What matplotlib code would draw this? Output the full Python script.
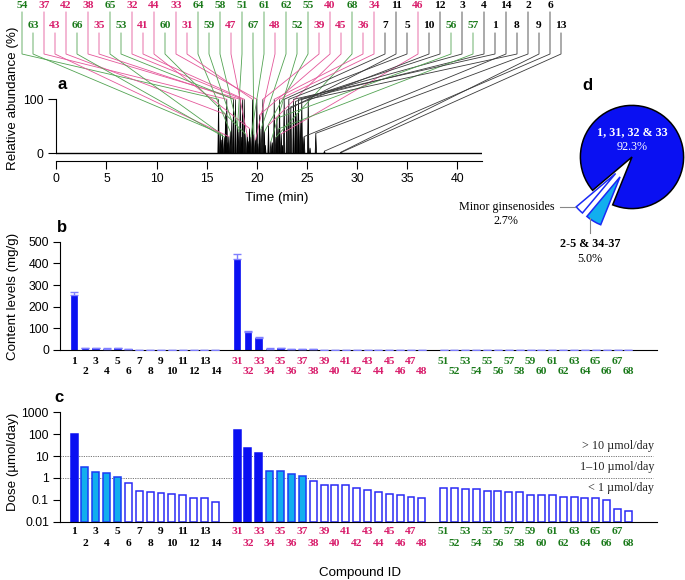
import matplotlib
matplotlib.use('Agg')
import matplotlib.pyplot as plt
import numpy as np
from matplotlib.lines import Line2D
from matplotlib.transforms import blended_transform_factory

W, H = 685, 580

# ---------------- data ----------------
group1_ids = list(range(1, 15))
group2_ids = list(range(31, 49))
group3_ids = list(range(51, 69))

# panel b: content levels (mg/g)
content_g1 = [252, 9, 7, 6, 7, 3, 1, 1, 0.8, 0.7, 0.7, 0.5, 0.4, 0.3]
content_g2 = [418, 83, 57, 6, 7, 5, 5, 3, 2, 2, 2, 1.5, 1.2, 1, 0.8, 0.7, 0.6, 0.5]
content_g3 = [1.5, 1.5, 1.3, 1.3, 1, 1, 1, 0.9, 0.7, 0.7, 0.7, 0.6, 0.5, 0.5, 0.5, 0.4, 0.1, 0.1]
error_g1 = [17, 1, 1, 1, 1, 0.5, 0, 0, 0, 0, 0, 0, 0, 0]
error_g2 = [27, 4, 3, 1, 1, 1, 1, 0.5, 0, 0, 0, 0, 0, 0, 0, 0, 0, 0]
error_g3 = [0] * 18

# panel c: dose (umol/day)
dose_g1 = [105, 3.3, 1.9, 1.75, 1.1, 0.59, 0.25, 0.23, 0.19, 0.17, 0.165, 0.115, 0.105, 0.068]
dose_g2 = [163, 24, 14, 2.1, 2.0, 1.52, 1.28, 0.73, 0.48, 0.47, 0.47, 0.34, 0.265, 0.23,
           0.17, 0.165, 0.13, 0.11]
dose_g3 = [0.33, 0.33, 0.30, 0.30, 0.24, 0.24, 0.215, 0.21, 0.158, 0.152, 0.148, 0.128,
           0.123, 0.115, 0.11, 0.084, 0.0265, 0.02]

# panel a: retention time (min) and relative abundance of each labelled compound
peak_ids = [1, 2, 3, 4, 5, 6, 7, 8, 9, 10, 11, 12, 13, 14,
            31, 32, 33, 34, 35, 36, 37, 38, 39, 40, 41, 42, 43, 44, 45, 46, 47, 48,
            51, 52, 53, 54, 55, 56, 57, 58, 59, 60, 61, 62, 63, 64, 65, 66, 67, 68]
peak_rt = [23.65, 25.88, 24.15, 24.48, 23.19, 26.74, 22.72, 25.12, 28.37, 23.39, 22.99, 23.85, 28.45, 24.72,
           19.57, 18.57, 20.0, 22.26, 17.87, 21.73, 17.0, 18.34, 20.6, 20.26, 18.74, 16.88, 17.2, 19.27,
           21.16, 22.43, 19.07, 19.87,
           18.07, 21.4, 17.67, 16.18, 20.75, 22.0, 22.12, 18.2, 17.5, 18.9, 19.4, 20.42, 16.35, 17.35,
           16.58, 16.75, 19.7, 21.9]
peak_height = [100, 37, 100, 100, 100, 4, 100, 100, 2, 86, 80, 96, 2, 31,
               100, 100, 100, 100, 100, 100, 100, 100, 100, 71, 100, 72, 31, 46, 52, 36, 31, 25,
               50, 22, 100, 100, 40, 65, 45, 40, 60, 35, 30, 45, 37, 40, 34, 30, 35, 30]
other_rt = [23.99, 24.32, 16.45, 17.1, 18.45, 19.15, 20.1, 20.85, 21.55, 22.55, 24.6, 25.3]
other_height = [74, 62, 25, 20, 30, 22, 18, 15, 20, 15, 30, 10]

top_row_labels = [54, 37, 42, 38, 65, 32, 44, 33, 64, 58, 51, 61, 62, 55, 40, 68, 34, 11, 46, 12, 3, 4, 14, 2, 6]
second_row_labels = [63, 43, 66, 35, 53, 41, 60, 31, 59, 47, 67, 48, 52, 39, 45, 36, 7, 5, 10, 56, 57, 1, 8, 9, 13]

time_ticks = [0, 5, 10, 15, 20, 25, 30, 35, 40]

pie_labels = ['1, 31, 32 & 33', 'Minor ginsenosides', '2-5 & 34-37']
pie_values = [92.3, 2.7, 5.0]

# ---------------- style ----------------
BLUE = '#0a10f2'
CYAN = '#12aeee'
MAG = '#d81b6a'
GRN = '#1b7a1b'
MAG_L = '#e4579a'
GRN_L = '#52a352'
BLK_L = '#3a3a3a'
SANS = 'Liberation Sans'
SERIF = 'Liberation Serif'

plt.rcParams['font.family'] = SANS

fig = plt.figure(figsize=(W / 100, H / 100), dpi=100)


def fx(x):
    return x / W


def fy(y):
    return 1 - y / H


def id_color(i):
    if i < 30:
        return 'black'
    if i < 50:
        return MAG
    return GRN


def id_line_color(i):
    if i < 30:
        return BLK_L
    if i < 50:
        return MAG_L
    return GRN_L


# positions of compounds on bar axes (groups separated by a gap)
all_ids = group1_ids + group2_ids + group3_ids
positions = []
for g, ids in enumerate([group1_ids, group2_ids, group3_ids]):
    start = [0, 15, 34][g]
    positions += [start + k for k in range(len(ids))]
positions = np.array(positions)
content = np.array(content_g1 + content_g2 + content_g3)
errors = np.array(error_g1 + error_g2 + error_g3)
dose = np.array(dose_g1 + dose_g2 + dose_g3)

# ---------------- panel a ----------------
ax_a = fig.add_axes([fx(56.3), fy(160.7), (482 - 56.3) / W, (160.7 - 99.3) / H])
ax_a.set_xlim(0, 42.45)
ax_a.set_ylim(-13.7, 100)
w = 0.07
for t, h in zip(list(peak_rt) + other_rt, list(peak_height) + other_height):
    ax_a.fill([t - w, t, t + w], [0, h, 0], color='black', lw=0.5, clip_on=False, zorder=3)
ax_a.plot([0, 42.45], [0, 0], color='black', lw=1.0, zorder=2)
for s in ['top', 'right']:
    ax_a.spines[s].set_visible(False)
ax_a.spines['left'].set_bounds(0, 100)
ax_a.set_yticks([0, 100])
ax_a.set_yticklabels(['0', '100'], fontsize=8.8)
ax_a.set_xticks(time_ticks)
ax_a.set_xticklabels([str(t) for t in time_ticks], fontsize=8.8)
ax_a.tick_params(axis='both', direction='out', length=6, width=0.8, pad=3)
fig.text(fx(277), fy(198), 'Time (min)', ha='center', va='center', fontsize=9.6)
fig.text(fx(13), fy(98), 'Relative abundance (%)', rotation=90, ha='center', va='center', fontsize=9.6)
fig.text(fx(62), fy(84), 'a', ha='center', va='center', fontsize=12, fontweight='bold')

# leader lines and labels
rt_map = dict(zip(peak_ids, peak_rt))
h_map = dict(zip(peak_ids, peak_height))
fig.canvas.draw()
inv = fig.transFigure.inverted()
for row, labels in enumerate([top_row_labels, second_row_labels]):
    x0 = 22 if row == 0 else 33
    ty = 5 if row == 0 else 26
    ystart = 12 if row == 0 else 33
    for k, cid in enumerate(labels):
        lx = x0 + 22 * k
        fig.text(fx(lx), fy(ty), str(cid), ha='center', va='center', color=id_color(cid),
                 fontsize=8.2, fontweight='bold', family=SERIF)
        px, py = ax_a.transData.transform((rt_map[cid], h_map[cid]))
        ex, ey = inv.transform((px, py))
        line = Line2D([fx(lx), fx(lx), ex], [fy(ystart), fy(54), ey], transform=fig.transFigure,
                      color=id_line_color(cid), lw=0.6, zorder=1)
        fig.add_artist(line)

# ---------------- panel b ----------------
ax_b = fig.add_axes([fx(60), fy(350), 597 / W, 108.3 / H])
ax_b.set_xlim(-1.29, 53.63)
ax_b.set_ylim(0, 500)
ax_b.bar(positions, content, width=0.62, color=BLUE, edgecolor=BLUE, lw=0.5, zorder=2)
ax_b.errorbar(positions, content, yerr=[np.zeros_like(errors), errors], fmt='none',
              ecolor='#7f7fff', elinewidth=1.0, capsize=3, capthick=1.0, zorder=3)
for s in ['top', 'right']:
    ax_b.spines[s].set_visible(False)
ax_b.set_xticks([])
ax_b.set_yticks([0, 100, 200, 300, 400, 500])
ax_b.set_yticklabels(['0', '100', '200', '300', '400', '500'], fontsize=8.8)
ax_b.tick_params(axis='y', direction='out', length=5, width=0.8, pad=3)
fig.text(fx(13), fy(296), 'Content levels (mg/g)', rotation=90, ha='center', va='center', fontsize=9.6)
fig.text(fx(62), fy(228), 'b', ha='center', va='center', fontsize=12, fontweight='bold')

# ---------------- panel c ----------------
ax_c = fig.add_axes([fx(60), fy(521.7), 597 / W, 109.4 / H])
ax_c.set_yscale('log')
ax_c.set_xlim(-1.29, 53.63)
ax_c.set_ylim(0.01, 1000)
for p, v in zip(positions, dose):
    if v > 10:
        fc, ec = BLUE, BLUE
    elif v >= 1:
        fc, ec = CYAN, '#1a3cf5'
    else:
        fc, ec = 'white', '#2a2af5'
    ax_c.bar(p, v, width=0.64, bottom=0.01, color=fc, edgecolor=ec, lw=1.1, zorder=2)
ax_c.hlines([10, 1], -1.29, 53.3, colors='#777777', linestyles=(0, (1.2, 1.2)), lw=0.7, zorder=1)
for s in ['top', 'right']:
    ax_c.spines[s].set_visible(False)
ax_c.set_xticks([])
yt = [0.01, 0.1, 1, 10, 100, 1000]
ax_c.set_yticks(yt)
ax_c.set_yticklabels(['0.01', '0.1', '1', '10', '100', '1000'], fontsize=8.8)
ax_c.yaxis.set_minor_locator(matplotlib.ticker.NullLocator())
ax_c.tick_params(axis='y', direction='out', length=5, width=0.8, pad=3)
fig.text(fx(13), fy(462), 'Dose (\u00b5mol/day)', rotation=90, ha='center', va='center', fontsize=9.6)
fig.text(fx(59), fy(398), 'c', ha='center', va='center', fontsize=12, fontweight='bold')
fig.text(fx(360), fy(573), 'Compound ID', ha='center', va='center', fontsize=9.6)
for txt, yy in [('> 10 \u00b5mol/day', 446), ('1\u201310 \u00b5mol/day', 467), ('< 1 \u00b5mol/day', 488)]:
    fig.text(fx(654), fy(yy), txt, ha='right', va='center', fontsize=8.7, family=SERIF, color='#222222')

# compound ID labels under b and c
for ax, rows in [(ax_b, (361, 372)), (ax_c, (532, 543))]:
    tr = blended_transform_factory(ax.transData, fig.transFigure)
    for p, cid in zip(positions, all_ids):
        yy = rows[0] if cid % 2 == 1 else rows[1]
        ax.text(p, fy(yy), str(cid), transform=tr, ha='center', va='center', color=id_color(cid),
                fontsize=8.2, fontweight='bold', family=SERIF, clip_on=False)

# ---------------- panel d ----------------
cx, cy, R = 632, 157, 51.6
ax_d = fig.add_axes([fx(cx - 80), fy(cy + 80), 160 / W, 160 / H])
wedges, _ = ax_d.pie([pie_values[0], pie_values[1], pie_values[2]],
                     colors=[BLUE, 'white', CYAN], startangle=248, counterclock=True,
                     explode=[0, 0.45, 0.45], radius=1, wedgeprops=dict(linewidth=1.1))
wedges[0].set_edgecolor('black')
wedges[1].set_edgecolor('#1a2af5')
wedges[2].set_edgecolor('#1a2af5')
ax_d.set_xlim(-80 / R, 80 / R)
ax_d.set_ylim(-80 / R, 80 / R)
ax_d.set_aspect('equal')
ax_d.axis('off')
fig.text(fx(587), fy(85), 'd', ha='center', va='center', fontsize=12, fontweight='bold')
fig.text(fx(632), fy(132), pie_labels[0], ha='center', va='center', color='white',
         fontsize=8.7, fontweight='bold', family=SERIF)
fig.text(fx(632), fy(147), '92.3%', ha='center', va='center', color='white', fontsize=8.7, family=SERIF)
fig.text(fx(555), fy(207), pie_labels[1], ha='right', va='center', fontsize=8.7, family=SERIF)
fig.text(fx(506), fy(221), '2.7%', ha='center', va='center', fontsize=8.7, family=SERIF)
fig.add_artist(Line2D([fx(560), fx(575)], [fy(207), fy(207)], transform=fig.transFigure,
                      color='#888888', lw=0.8))
fig.add_artist(Line2D([fx(590), fx(590)], [fy(218), fy(233)], transform=fig.transFigure,
                      color='#888888', lw=0.8))
fig.text(fx(590), fy(244), pie_labels[2], ha='center', va='center', fontsize=8.7,
         fontweight='bold', family=SERIF)
fig.text(fx(590), fy(259), '5.0%', ha='center', va='center', fontsize=8.7, family=SERIF)

fig.savefig('out.png', dpi=100)
